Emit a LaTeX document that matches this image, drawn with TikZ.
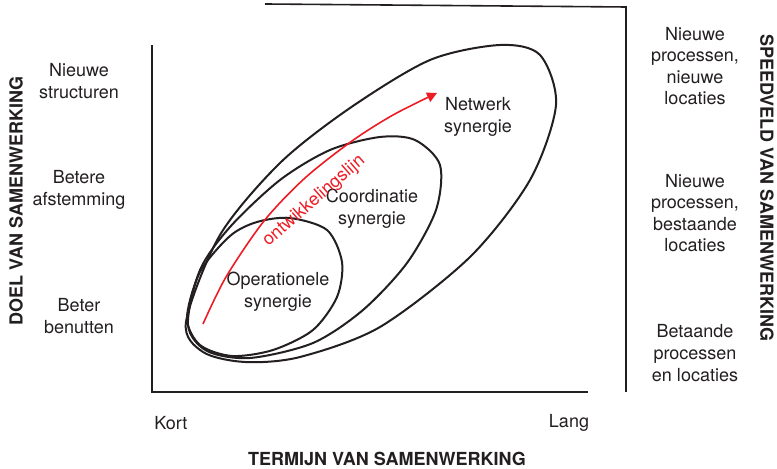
\documentclass[tikz,border=0pt]{standalone}
\usepackage{fontspec}
\setmainfont{TeX Gyre Heros}
\usetikzlibrary{arrows.meta}
\definecolor{ink}{HTML}{231F20}
\definecolor{lijnrood}{HTML}{ED1C24}
\begin{document}
\begin{tikzpicture}[x=.5pt,y=-.5pt,>={Triangle[length=5pt,width=5pt]},
  lbl/.style={align=center,inner sep=0pt,text=ink,font=\fontsize{9}{10.8}\selectfont},
  kop/.style={inner sep=0pt,text=ink,font=\fontsize{9}{10.8}\selectfont\bfseries},
  synergie/.style={line width=1pt,ink}]
\useasboundingbox (0,0) rectangle (777,469);
% assen
\draw[line width=1.1pt,ink] (152,45)--(152,392)--(588,392);
\draw[line width=.8pt,ink] (265,4)--(626,7)--(626,392);
% niveaus links
\node[lbl] (nstruct) at (79,81) {Nieuwe\\structuren};
\node[lbl] (afstem) at (79,190) {Betere\\afstemming};
\node[lbl] (benut) at (79,316) {Beter\\benutten};
\node[kop,rotate=90] (doel) at (16,201) {DOEL VAN SAMENWERKING};
% niveaus rechts
\node[lbl] (nieuwloc) at (695,66) {Nieuwe\\processen,\\nieuwe\\locaties};
\node[lbl] (bestloc) at (695,213) {Nieuwe\\processen,\\bestaande\\locaties};
\node[lbl] (betloc) at (695,353) {Betaande\\processen\\en locaties};
\node[kop,rotate=-90] (speed) at (767,188) {SPEEDVELD VAN SAMENWERKING};
% termijn
\node[lbl] (kort) at (171,423) {Kort};
\node[lbl] (lang) at (569,423) {Lang};
\node[kop] (termijn) at (387,459) {TERMIJN VAN SAMENWERKING};
% de drie synergievormen
\draw[synergie] plot[smooth cycle] coordinates {(186,322) (203,352) (245,362) (300,357)
  (380,327) (470,257) (530,180) (556,105) (540,55) (500,45) (430,60) (350,108)
  (280,163) (220,235)};
\draw[synergie] plot[smooth cycle] coordinates {(188,325) (207,351) (250,358) (313,343)
  (363,310) (407,263) (436,210) (440,165) (415,140) (380,137) (330,150) (280,180)
  (230,227) (200,270)};
\draw[synergie] plot[smooth cycle] coordinates {(187,318) (200,345) (232,356) (273,350)
  (313,330) (337,297) (342,262) (327,230) (290,218) (257,222) (230,236) (200,272)};
\node[lbl] (netwerk) at (478,117) {Netwerk\\synergie};
\node[lbl] (coord) at (372,209) {Coordinatie\\synergie};
\node[lbl] (oper) at (278,292) {Operationele\\synergie};
% ontwikkelingslijn
\draw[->,lijnrood,line width=.8pt] plot[smooth] coordinates {(203,324) (226,277) (264,221)
  (305,178) (352,141) (393,115) (437,93)};
\node[lbl,text=lijnrood,rotate=41] (ontw) at (314,201) {ontwikkelingslijn};
\end{tikzpicture}
\end{document}
